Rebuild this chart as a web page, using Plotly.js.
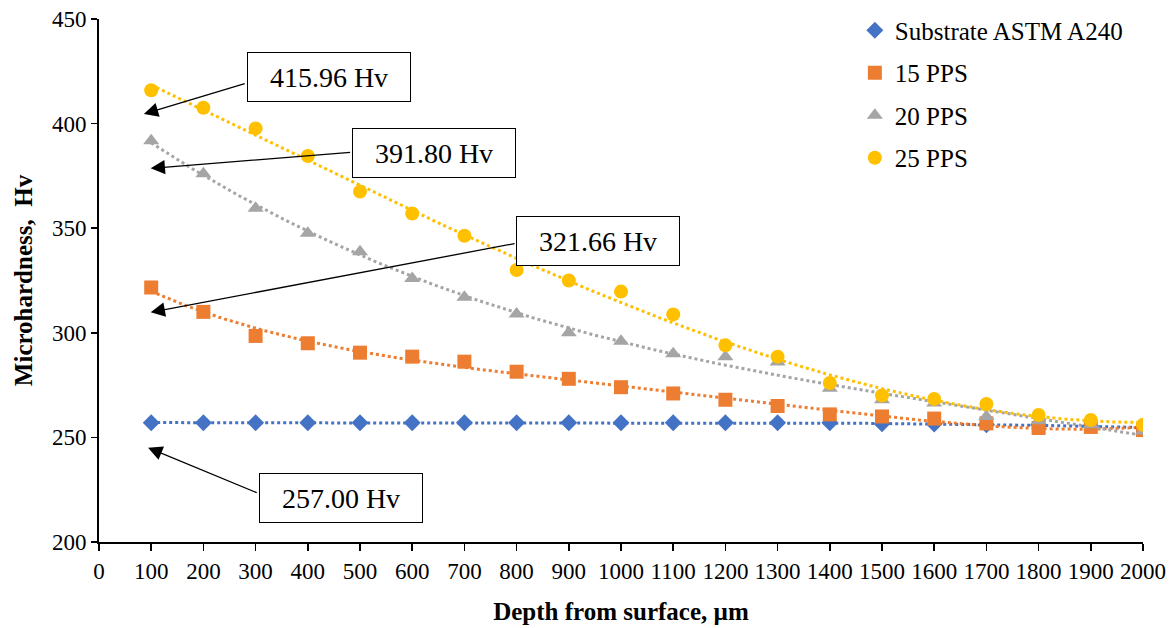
<!DOCTYPE html>
<html>
<head>
<meta charset="utf-8">
<script src="https://cdn.plot.ly/plotly-3.0.1.min.js"></script>
<style>html,body{margin:0;padding:0;background:#fff;}#chart{width:1171px;height:628px;}</style>
</head>
<body>
<div id="chart"></div>
<script>
// Depth from surface (µm)
var depth = [100,200,300,400,500,600,700,800,900,1000,1100,1200,1300,1400,1500,1600,1700,1800,1900,2000];
// Microhardness (Hv)
var substrate = [257,257,257,257,257,257,257,257,257,257,257,257,257,257,256.5,256.4,256,256,255.5,254.5];
var pps15 = [321.66,310,298.5,295,290.5,288.6,286.2,281.4,278,274,271,268,265,261,260,259,256.7,254.5,255,253.5];
var pps20 = [391.8,376,359.5,347.6,338.8,326,317,309,300,296,290,288.6,286,273.5,268,266.4,260,258,256,253];
var pps25 = [415.96,407.6,397.7,384.5,367.5,357,346.4,330,325,319.7,308.8,294,288.6,276,270,268.4,266,260.7,258.3,256];
var seriesNames = ['Substrate ASTM A240','15 PPS','20 PPS','25 PPS'];
var seriesColors = ['#4472C4','#ED7D31','#A5A5A5','#FFC000'];
var seriesSymbols = ['diamond','square','triangle-up','circle'];
var trendOrders = [3, 4, 3, 3];
var labelTexts = ['415.96 Hv','391.80 Hv','321.66 Hv','257.00 Hv'];

// polynomial trendline (least squares), like a spreadsheet trendline
function polyFit(xs, ys, order){
  var n = order+1, A = [], b = [];
  for (var i=0;i<n;i++){A.push(new Array(n).fill(0)); b.push(0);}
  xs.forEach(function(xv,k){
    var x = xv/1000;
    for (var i=0;i<n;i++){
      for (var j=0;j<n;j++) A[i][j] += Math.pow(x,i+j);
      b[i] += ys[k]*Math.pow(x,i);
    }
  });
  for (var c=0;c<n;c++){
    var p=c; for (var r=c+1;r<n;r++) if (Math.abs(A[r][c])>Math.abs(A[p][c])) p=r;
    var t=A[c];A[c]=A[p];A[p]=t; var tb=b[c];b[c]=b[p];b[p]=tb;
    for (var r2=c+1;r2<n;r2++){
      var f=A[r2][c]/A[c][c];
      for (var j2=c;j2<n;j2++) A[r2][j2]-=f*A[c][j2];
      b[r2]-=f*b[c];
    }
  }
  var coef=new Array(n).fill(0);
  for (var r3=n-1;r3>=0;r3--){
    var s=b[r3]; for (var j3=r3+1;j3<n;j3++) s-=A[r3][j3]*coef[j3];
    coef[r3]=s/A[r3][r3];
  }
  return function(xv){var x=xv/1000,s=0;for(var i=0;i<n;i++) s+=coef[i]*Math.pow(x,i);return s;};
}

var allSeries = [substrate, pps15, pps20, pps25];
var traces = [];
allSeries.forEach(function(ys, i){
  var f = polyFit(depth, ys, trendOrders[i]);
  var tx = [], ty = [];
  for (var xv = depth[0]; xv <= depth[depth.length-1]; xv += 10){ tx.push(xv); ty.push(f(xv)); }
  traces.push({x: tx, y: ty, mode: 'lines', showlegend: false, hoverinfo: 'skip',
    line: {color: seriesColors[i], width: 3, dash: '3px,3px'}});
});
allSeries.forEach(function(ys, i){
  traces.push({x: depth, y: ys, mode: 'markers', name: seriesNames[i], legendgroup: 'g'+i,
    marker: {symbol: seriesSymbols[i], color: seriesColors[i], size: seriesSymbols[i]==='diamond'?13:14}});
});

var font = 'Liberation Serif, Times New Roman, serif';
function box(text, x, y){
  return {text: text, x: x, y: y, xref: 'x', yref: 'y', showarrow: false,
    font: {family: font, size: 28, color: '#000'}, bgcolor: '#fff', bordercolor: '#000',
    borderwidth: 1, borderpad: 2, width: 158, height: 44};
}
function arrow(x, y, ax, ay){
  return {text: '', x: x, y: y, ax: ax, ay: ay, xref: 'x', yref: 'y', axref: 'x', ayref: 'y',
    showarrow: true, arrowhead: 2, arrowsize: 2.2, arrowwidth: 1.3, arrowcolor: '#000'};
}
var annotations = [
  arrow(86, 404.6, 282, 419.3), box(labelTexts[0], 440, 422.1),
  arrow(99, 378.6, 484, 386.3), box(labelTexts[1], 641, 386),
  arrow(99, 309.8, 799, 342.8), box(labelTexts[2], 956, 344),
  arrow(94, 245.1, 305, 223.3), box(labelTexts[3], 463, 220.9)
];

var layout = {
  width: 1171, height: 628,
  margin: {l: 99, r: 28, t: 19, b: 86, autoexpand: false},
  paper_bgcolor: '#fff', plot_bgcolor: '#fff',
  font: {family: font, color: '#000', size: 22},
  xaxis: {range: [0, 2000], dtick: 100, tick0: 0, showgrid: false, zeroline: false,
    showline: true, linecolor: '#000', linewidth: 2, ticks: 'outside', ticklen: 7, tickwidth: 1.5, tickcolor: '#000',
    tickfont: {family: font, size: 23},
    title: {text: '<b>Depth from surface, µm</b>', font: {family: font, size: 25}, standoff: 20}},
  yaxis: {range: [200, 450], dtick: 50, showgrid: false, zeroline: false,
    showline: true, linecolor: '#000', linewidth: 2, ticks: 'outside', ticklen: 6, tickwidth: 1.5, tickcolor: '#000',
    tickfont: {family: font, size: 23},
    title: {text: '<b>Microhardness,  Hv</b>', font: {family: font, size: 25}, standoff: 12}},
  legend: {x: 0.724, y: 1.022, xanchor: 'left', yanchor: 'top',
    traceorder: 'grouped', tracegroupgap: 7,
    font: {family: font, size: 25}, bgcolor: 'rgba(0,0,0,0)'},
  annotations: annotations,
  showlegend: true
};
Plotly.newPlot('chart', traces, layout, {displayModeBar: false, staticPlot: true});
</script>
</body>
</html>
